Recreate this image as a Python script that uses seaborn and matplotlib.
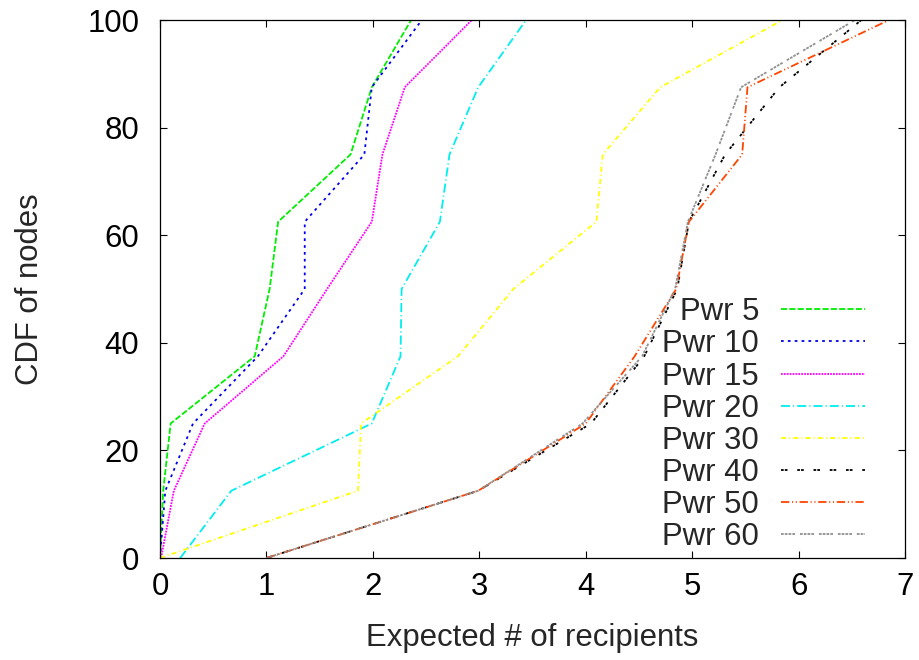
import matplotlib
matplotlib.use("Agg")
import matplotlib.pyplot as plt
import seaborn as sns
import pandas as pd

# CDF levels (8 nodes)
cdf = [0, 12.5, 25, 37.5, 50, 62.5, 75, 87.5, 100]

labels = ["Pwr 5", "Pwr 10", "Pwr 15", "Pwr 20", "Pwr 30", "Pwr 40", "Pwr 50", "Pwr 60"]

pwr5 = [0.0, 0.03, 0.10, 0.89, 1.03, 1.11, 1.79, 1.99, 2.36]
pwr10 = [0.0, 0.05, 0.31, 0.92, 1.36, 1.36, 1.92, 1.99, 2.46]
pwr15 = [0.01, 0.13, 0.42, 1.16, 1.57, 1.99, 2.09, 2.30, 2.93]
pwr20 = [0.19, 0.67, 1.99, 2.26, 2.27, 2.63, 2.72, 2.99, 3.44]
pwr30 = [0.0, 1.86, 1.89, 2.80, 3.32, 4.10, 4.16, 4.70, 5.85]
pwr40 = [1.0, 2.99, 4.05, 4.55, 4.86, 4.97, 5.31, 5.82, 6.59]
pwr50 = [1.0, 2.99, 4.00, 4.46, 4.85, 4.97, 5.47, 5.52, 6.85]
pwr60 = [1.0, 2.99, 3.97, 4.53, 4.84, 4.96, 5.22, 5.46, 6.53]

series = [pwr5, pwr10, pwr15, pwr20, pwr30, pwr40, pwr50, pwr60]

colors = ["#00ee00", "#0000ee", "#ff00ff", "#00eeee", "#ffff00", "#000000", "#ff4500", "#909090"]
styles = [
    (0, (3.4, 1.2)),
    (0, (1.5, 2.3)),
    (0, (1.0, 0.6)),
    (0, (5.0, 1.7, 0.6, 1.7)),
    (0, (2.8, 1.7, 0.6, 1.7)),
    (0, (1.5, 0.6, 1.5, 5.4)),
    (0, (4.6, 1.5, 0.6, 1.5, 0.6, 1.5)),
    (0, (1.5, 0.6, 1.5, 0.6, 1.5, 0.6, 1.5, 2.7)),
]

sns.set_theme(style="ticks")
plt.rcParams["font.family"] = ["Liberation Sans", "DejaVu Sans"]

fig = plt.figure(figsize=(9.19, 6.6), dpi=100)
ax = fig.add_axes([160 / 919, 1 - 558 / 660, 745 / 919, 538 / 660])

for lab, vals, col, ls in zip(labels, series, colors, styles):
    df = pd.DataFrame({"x": vals, "cdf": cdf})
    sns.lineplot(data=df, x="x", y="cdf", ax=ax, color=col, linestyle=ls,
                 linewidth=1.3, sort=False, estimator=None, label=lab, legend=False)

ax.set_xlim(0, 7)
ax.set_ylim(0, 100)
ax.set_xticks(range(0, 8))
ax.set_yticks(range(0, 101, 20))

fs = 22.4
ax.tick_params(direction="in", length=5, width=0.8, top=True, right=True,
               labelsize=fs, colors="black")
ax.tick_params(axis="y", pad=15)
ax.tick_params(axis="x", pad=10)
for sp in ax.spines.values():
    sp.set_linewidth(0.9)
    sp.set_color("black")
    sp.set_visible(True)

ax.set_xlabel("Expected # of recipients", fontsize=fs, labelpad=15)
ax.set_ylabel("CDF of nodes", fontsize=fs, labelpad=30)

leg = ax.legend(handles=ax.lines, labels=labels, loc="lower right",
                bbox_to_anchor=(0.946, 0.011), frameon=False, markerfirst=False,
                fontsize=fs, handlelength=2.7, handletextpad=0.7,
                labelspacing=0.068, borderpad=0, borderaxespad=0)

fig.savefig("out.png", dpi=100)
